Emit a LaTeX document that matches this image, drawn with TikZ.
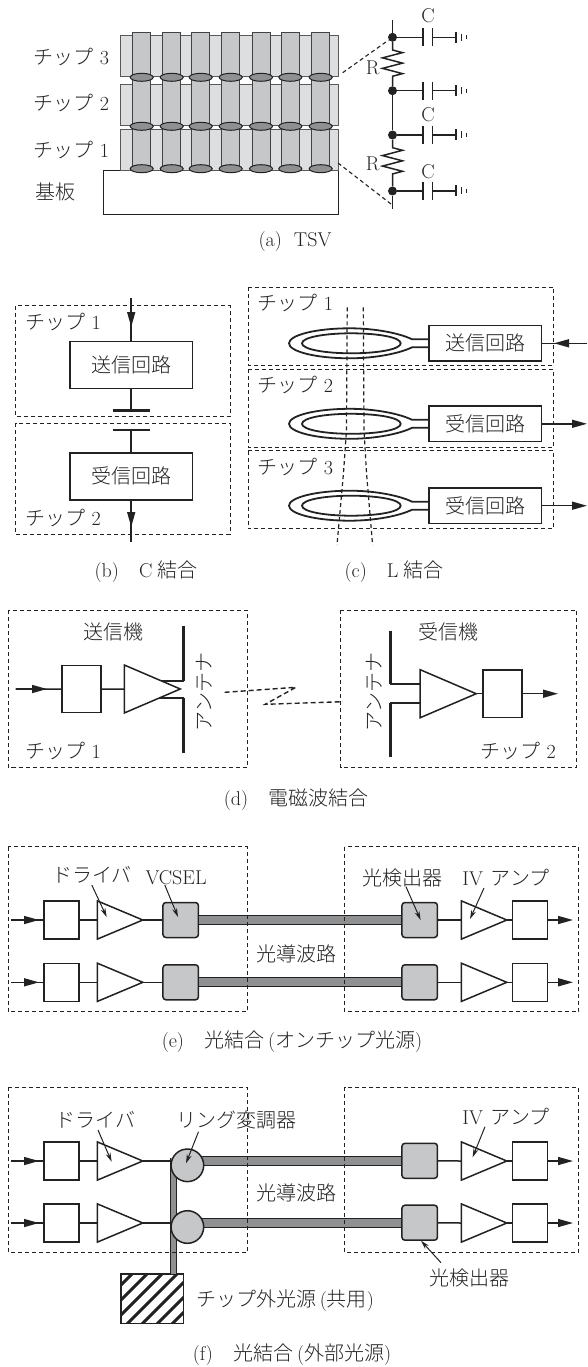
\documentclass[tikz,border=0pt]{standalone}
\usepackage{fontspec}
\usetikzlibrary{arrows.meta,shapes.geometric,decorations.pathmorphing}
\setmainfont{Latin Modern Roman}
\newfontfamily\jpfont[UprightFont={* Light}]{Noto Sans CJK JP}
\newcommand{\jp}[1]{{\jpfont #1}}
\definecolor{ink}{HTML}{222222}
\definecolor{chipgray}{HTML}{DCDEDF}
\definecolor{viagray}{HTML}{C5C7C9}
\definecolor{guidegray}{HTML}{8E9092}
\tikzset{
  lbl/.style={font=\fontsize{20}{22}\selectfont, text=ink, inner sep=0pt},
  wire/.style={draw=ink, line width=1.5pt},
  sig/.style={wire, -{Triangle[length=15pt,width=8pt]}},
  lead/.style={draw=ink, line width=1pt, -{Stealth[length=9pt,width=5pt]}},
  chipframe/.style={draw=ink, line width=0.9pt, dash pattern=on 4pt off 3pt},
  couple/.style={draw=ink, line width=1.4pt, dash pattern=on 5pt off 3pt},
  chip/.style={draw=ink!75, line width=0.8pt, fill=chipgray, minimum width=218.7pt, minimum height=41.4pt, inner sep=0pt},
  via/.style={draw=ink!85, line width=1pt, fill=viagray, minimum width=18pt, minimum height=136pt, inner sep=0pt},
  bump/.style={draw=ink, line width=1pt, fill=guidegray, ellipse, minimum width=23pt, minimum height=8pt, inner sep=0pt},
  dot/.style={circle, fill=ink, minimum size=9pt, inner sep=0pt},
  block/.style={draw=ink, line width=1.5pt, fill=white, minimum width=35.2pt, minimum height=38pt, inner sep=0pt, lbl},
  circuit/.style={block, minimum width=122.5pt, minimum height=47pt},
  coilbox/.style={block, minimum width=112.8pt, minimum height=35.4pt},
  amp/.style={draw=ink, line width=1.5pt, fill=white, isosceles triangle, isosceles triangle stretches,
    minimum width=38.2pt, minimum height=45.4pt, inner sep=0pt, outer sep=0pt, anchor=lower side},
  bigamp/.style={amp, minimum width=48pt, minimum height=56pt},
  graybox/.style={draw=ink, line width=1.5pt, fill=viagray, rounded corners=3pt, minimum width=35.5pt, minimum height=35pt, inner sep=0pt},
  ringmod/.style={draw=ink, line width=1.5pt, fill=viagray, circle, minimum size=32.6pt, inner sep=0pt},
  wguide/.style={draw=ink, line width=1.15pt, double=guidegray, double distance=8pt},
  feedguide/.style={draw=ink, line width=1.1pt, double=guidegray, double distance=5pt},
  antenna/.style={draw=ink, line width=3pt},
  lamp/.style={draw=ink, line width=1.5pt, minimum width=62.5pt, minimum height=49.3pt, inner sep=0pt,
    path picture={\foreach \d in {-75,-60,...,75}
      \draw[ink, line width=3pt, shift={(path picture bounding box.center)}] (\d-60,60) -- (\d+60,-60);}},
  res/.style={decorate, decoration={zigzag, amplitude=10pt, segment length=10.5pt, pre length=8pt, post length=8pt}},
}
\begin{document}
\begin{tikzpicture}[x=1pt, y=-1pt]
  \useasboundingbox (0,0) rectangle (587,1367);

  \node[draw=ink, line width=1pt, minimum width=235.4pt, minimum height=44.3pt, inner sep=0pt] (base) at (221,192.2) {};
  \foreach \i/\y in {3/56, 2/104.7, 1/149.7} {
    \node[chip] (chip\i) at (229.35,\y) {};
  }
  \foreach \i/\x in {1/141.7, 2/171.7, 3/200.7, 4/230.7, 5/261, 6/290.3, 7/320.7} {
    \node[via] (via\i) at (\x,100.7) {};
    \node[bump] (bumpa\i) at (\x,77.3) {};
    \node[bump] (bumpb\i) at (\x,126.3) {};
    \node[bump] (bumpc\i) at (\x,168.7) {};
  }
  \foreach \i/\y in {3/56.7, 2/103, 1/150} {
    \node[lbl, anchor=west] (tsvname\i) at (33.7,\y) {\jp{チップ}\ \i};
  }
  \node[lbl, anchor=west] (basename) at (35.6,191.7) {\jp{基板}};
  \node[lbl] (capa) at (295,241.7) {(a)\ \ TSV};

  \coordinate (rtop) at (392.5,20);
  \coordinate (rbot) at (392.5,209);
  \foreach \i/\y in {1/37.3, 2/90.7, 3/135, 4/191} {
    \node[dot] (rc\i) at (392.5,\y) {};
    \coordinate (cl\i) at (423,\y);
    \coordinate (cr\i) at (432.6,\y);
    \coordinate (gnd\i) at (455.8,\y);
    \draw[wire] (rc\i) -- (cl\i);
    \draw[wire] (cr\i) -- (gnd\i);
    \draw[wire] (cl\i) ++(0,-9) -- ++(0,18);
    \draw[wire] (cr\i) ++(0,-9) -- ++(0,18);
    \draw[wire] (gnd\i) ++(0,-5.5) -- ++(0,11);
    \draw[wire, line width=1pt] (gnd\i) ++(5.6,-3.5) -- ++(0,7);
    \draw[wire, line width=1pt] (gnd\i) ++(10.2,-2) -- ++(0,4);
  }
  \draw[wire] (rtop) -- (rc1);
  \draw[wire, res] (rc1) -- (rc2);
  \draw[wire] (rc2) -- (rc3);
  \draw[wire, res] (rc3) -- (rc4);
  \draw[wire] (rc4) -- (rbot);
  \node[lbl] (cname1) at (428,15.7) {C};
  \node[lbl] (cname2) at (428,115) {C};
  \node[lbl] (cname3) at (428,172) {C};
  \node[lbl] (rname1) at (372.6,68) {R};
  \node[lbl] (rname2) at (372.6,164) {R};
  \coordinate (zooma) at (342.7,72.7);
  \coordinate (zoomb) at (338,163);
  \coordinate (zoomc) at (391,204);
  \draw[chipframe, line width=1.1pt] (zooma) -- (rc1);
  \draw[chipframe, line width=1.1pt] (zoomb) -- (zoomc);

  \draw[chipframe] (15.7,305.7) rectangle (230,416.7);
  \draw[chipframe] (15.7,423) rectangle (230,534.3);
  \node[circuit] (btx) at (131.2,365.2) {\jp{送信回路}};
  \node[circuit] (brx) at (131.2,476.3) {\jp{受信回路}};
  \coordinate (bin) at (131.2,298.3);
  \coordinate (bintip) at (131.2,327);
  \coordinate (bplatea) at (131.2,410.7);
  \coordinate (bplateb) at (131.2,430);
  \coordinate (bout) at (131.2,541.7);
  \coordinate (bouttip) at (131.2,527);
  \draw[wire] (bin) -- (btx);
  \draw[sig] (bin) -- (bintip);
  \draw[wire] (btx) -- (bplatea);
  \draw[wire] (bplateb) -- (brx);
  \draw[wire] (brx) -- (bout);
  \draw[sig] (brx) -- (bouttip);
  \draw[antenna, line width=2.5pt] (bplatea) ++(-18.7,0) -- ++(37.4,0);
  \draw[antenna, line width=2.5pt] (bplateb) ++(-18.7,0) -- ++(37.4,0);
  \node[lbl, anchor=west] (bname1) at (25.5,322.3) {\jp{チップ}\ 1};
  \node[lbl, anchor=west] (bname2) at (25.5,518) {\jp{チップ}\ 2};
  \node[lbl] (capb) at (146,571.7) {(b)\quad C\kern5pt\jp{結合}};

  \draw[chipframe] (248,287.3) rectangle (553.6,365);
  \draw[chipframe] (248,369.3) rectangle (553.6,447.3);
  \draw[chipframe] (248,450.7) rectangle (553.6,528.7);
  \foreach \i/\y/\s in {1/343.3/送, 2/423.8/受, 3/505.7/受} {
    \node[coilbox] (crx\i) at (485.2,\y) {\jp{\s 信回路}};
    \begin{scope}[shift={(0,\y)}]
      \draw[ink, line width=1.8pt] (302,0) .. controls (302,-6) and (325,-10) .. (351,-10) .. controls (378,-10) and (400.7,-6) .. (400.7,0)
        .. controls (400.7,6) and (378,10) .. (351,10) .. controls (325,10) and (302,6) .. (302,0) -- cycle;
      \draw[ink, line width=1.8pt] (428.8,-4) -- (412,-4) .. controls (400,-10) and (375,-15) .. (350,-15) .. controls (315,-15) and (289,-8) .. (289,0)
        .. controls (289,8) and (315,15) .. (350,15) .. controls (375,15) and (400,10) .. (412,4) -- (428.8,4);
    \end{scope}
  }
  \foreach \i/\n in {1/1, 2/2, 3/3} {
    \node[lbl, anchor=west] (cname\n) at (257.7,{303.3+(\i-1)*81.7}) {\jp{チップ}\ \n};
  }
  \coordinate (ctx) at (587,343.3);
  \coordinate (ctxtip) at (554,343.3);
  \coordinate (cout2) at (587,423.8);
  \coordinate (cout3) at (587,505.7);
  \draw[wire] (ctx) -- (crx1);
  \draw[sig] (ctx) -- (ctxtip);
  \draw[sig] (crx2) -- (cout2);
  \draw[sig] (crx3) -- (cout3);
  \draw[chipframe, line width=1.2pt] (347.2,307.3) -- (346.5,430) -- (343.5,473) -- (337,545);
  \draw[chipframe, line width=1.2pt] (363.3,307.3) -- (364,430) -- (366.5,473) -- (372.6,545);
  \node[lbl] (capc) at (394,571.7) {(c)\quad L\kern5pt\jp{結合}};

  \draw[chipframe] (8.2,610) rectangle (247,767.7);
  \draw[chipframe] (340.8,610) rectangle (576.8,767.7);
  \coordinate (dant1) at (183.5,680.7);
  \coordinate (dant2) at (183.5,697.7);
  \coordinate (dant1t) at (183.5,625.7);
  \coordinate (dant2b) at (183.5,752.7);
  \coordinate (dfeed1) at (157,680.7);
  \coordinate (dfeed2) at (157,697.7);
  \draw[antenna] (dant1t) -- (dant1);
  \draw[antenna] (dant2) -- (dant2b);
  \draw[wire, line width=1.8pt] (dant1) -- (dfeed1);
  \draw[wire, line width=1.8pt] (dant2) -- (dfeed2);
  \coordinate (din) at (15.7,689);
  \coordinate (dintip) at (47,689);
  \node[block, minimum width=39.2pt, minimum height=47pt] (dtx) at (81.4,689.2) {};
  \node[bigamp] (damp) at (124.3,689) {};
  \draw[wire] (din) -- (dtx);
  \draw[sig] (din) -- (dintip);
  \draw[wire] (dtx) -- (damp.lower side);
  \coordinate (eant1t) at (390.3,630.7);
  \coordinate (eant1) at (390.3,684.3);
  \coordinate (eant2) at (390.3,702.7);
  \coordinate (eant2b) at (390.3,756.7);
  \coordinate (efeed1) at (420,684.3);
  \coordinate (efeed2) at (420,702.7);
  \draw[antenna] (eant1t) -- (eant1);
  \draw[antenna] (eant2) -- (eant2b);
  \draw[wire, line width=1.8pt] (eant1) -- (efeed1);
  \draw[wire, line width=1.8pt] (eant2) -- (efeed2);
  \node[bigamp] (eamp) at (420.2,693.7) {};
  \node[block, minimum width=39pt, minimum height=47.3pt] (erx) at (502.5,693.7) {};
  \coordinate (dout) at (558,693.7);
  \draw[wire] (eamp.apex) -- (erx);
  \draw[sig] (erx) -- (dout);
  \coordinate (wavea) at (224.7,692.3);
  \coordinate (waveb) at (295.9,687.3);
  \coordinate (wavec) at (265.2,704.3);
  \coordinate (waved) at (342.7,701.7);
  \draw[couple] (wavea) -- (waveb) -- (wavec) -- (waved);
  \node[lbl] (dname1) at (113.5,631.7) {\jp{送信機}};
  \node[lbl] (dname2) at (448.7,631.7) {\jp{受信機}};
  \node[lbl, rotate=90] (dname3) at (204,691.7) {\jp{アンテナ}};
  \node[lbl, rotate=90] (dname4) at (374.5,691.7) {\jp{アンテナ}};
  \node[lbl, anchor=west] (dname5) at (25.5,751) {\jp{チップ}\ 1};
  \node[lbl, anchor=west] (dname6) at (480.5,751) {\jp{チップ}\ 2};
  \node[lbl] (capd) at (296,800) {(d)\quad\jp{電磁波結合}};

  \foreach \i/\y in {1/920, 2/982.3} {
    \coordinate (ein\i) at (11.2,\y);
    \coordinate (eintip\i) at (39,\y);
    \node[block] (etx\i) at (61.4,\y) {};
    \node[amp] (edrv\i) at (97.4,\y) {};
    \node[graybox] (evc\i) at (180.7,\y) {};
    \node[graybox] (epd\i) at (419.7,\y) {};
    \node[amp] (eiv\i) at (461.4,\y) {};
    \node[block] (erb\i) at (530,\y) {};
    \coordinate (eout\i) at (573,\y);
    \draw[wguide] (evc\i) -- (epd\i);
    \draw[wire] (ein\i) -- (etx\i);
    \draw[sig] (ein\i) -- (eintip\i);
    \draw[wire] (etx\i) -- (edrv\i.lower side);
    \draw[wire] (edrv\i.apex) -- (evc\i);
    \draw[wire] (epd\i) -- (eiv\i.lower side);
    \draw[wire] (eiv\i.apex) -- (erb\i);
    \draw[sig] (erb\i) -- (eout\i);
  }
  \draw[chipframe] (8.2,846.7) rectangle (247,1011.7);
  \draw[chipframe] (344.6,846.7) rectangle (578.6,1011.7);
  \node[lbl] (ename1) at (92,875) {\jp{ドライバ}};
  \node[lbl] (ename2) at (176,878) {VCSEL};
  \node[lbl] (ename3) at (402.6,878) {\jp{光検出器}};
  \node[lbl] (ename4) at (506,878) {IV\kern8pt\jp{アンプ}};
  \node[lbl] (ename5) at (296,954) {\jp{光導波路}};
  \node[lbl] (cape) at (294,1041.7) {(e)\quad\jp{光結合}\kern4pt(\jp{オンチップ光源})\kern4pt};
  \foreach \n/\xa/\ya/\xb/\yb in {ldrv/91.8/885/106.7/917, lvc/164.8/885/178/917, lpd/406/886.7/420.6/920, liv/484/888/470/919} {
    \coordinate (\n a) at (\xa,\ya);
    \coordinate (\n b) at (\xb,\yb);
    \draw[lead] (\n a) -- (\n b);
  }

  \node[lamp] (extlamp) at (152.25,1298.7) {};
  \coordinate (fvtop) at (173.2,1158);
  \coordinate (fvbot) at (173.2,1274);
  \draw[feedguide] (fvtop) -- (fvbot);
  \foreach \i/\y/\yr/\yg in {1/1161/1165.3/1160.8, 2/1223/1227/1222.7} {
    \coordinate (fin\i) at (11.2,\y);
    \coordinate (fintip\i) at (39,\y);
    \coordinate (fjoin\i) at (171,\y);
    \coordinate (fstart\i) at (187,\yg);
    \node[block] (ftx\i) at (61.4,\y) {};
    \node[amp] (fdrv\i) at (97.4,\y) {};
    \node[graybox] (fpd\i) at (419.7,\yg) {};
    \draw[wguide] (fstart\i) -- (fpd\i);
    \node[ringmod] (fring\i) at (187.4,\yr) {};
    \node[amp] (fiv\i) at (461.4,\y) {};
    \node[block] (frb\i) at (530,\y) {};
    \coordinate (fout\i) at (573,\y);
    \draw[wire] (fin\i) -- (ftx\i);
    \draw[sig] (fin\i) -- (fintip\i);
    \draw[wire] (ftx\i) -- (fdrv\i.lower side);
    \draw[wire] (fdrv\i.apex) -- (fjoin\i);
    \draw[wire] (fpd\i) -- (fiv\i.lower side);
    \draw[wire] (fiv\i.apex) -- (frb\i);
    \draw[sig] (frb\i) -- (fout\i);
  }
  \draw[chipframe] (8.2,1087.3) rectangle (247,1252.7);
  \draw[chipframe] (344.6,1087.3) rectangle (578.6,1252.7);
  \node[lbl] (fname1) at (95.5,1119.3) {\jp{ドライバ}};
  \node[lbl] (fname2) at (236,1120) {\jp{リング変調器}};
  \node[lbl] (fname3) at (506,1116.7) {IV\kern8pt\jp{アンプ}};
  \node[lbl] (fname4) at (296,1192.7) {\jp{光導波路}};
  \node[lbl] (fname5) at (469,1277.7) {\jp{光検出器}};
  \node[lbl] (fname6) at (285.4,1300.7) {\jp{チップ外光源}\kern3pt(\jp{共用})};
  \node[lbl] (capf) at (294,1355) {(f)\quad\jp{光結合}\kern4pt(\jp{外部光源})\kern4pt};
  \foreach \n/\xa/\ya/\xb/\yb in {mdrv/98/1130/111.6/1161.7, mring/198.5/1131.7/186/1163.3, miv/485/1126.7/472.6/1157.3, mpd/441/1262.7/421/1240.7} {
    \coordinate (\n a) at (\xa,\ya);
    \coordinate (\n b) at (\xb,\yb);
    \draw[lead] (\n a) -- (\n b);
  }
\end{tikzpicture}
\end{document}
